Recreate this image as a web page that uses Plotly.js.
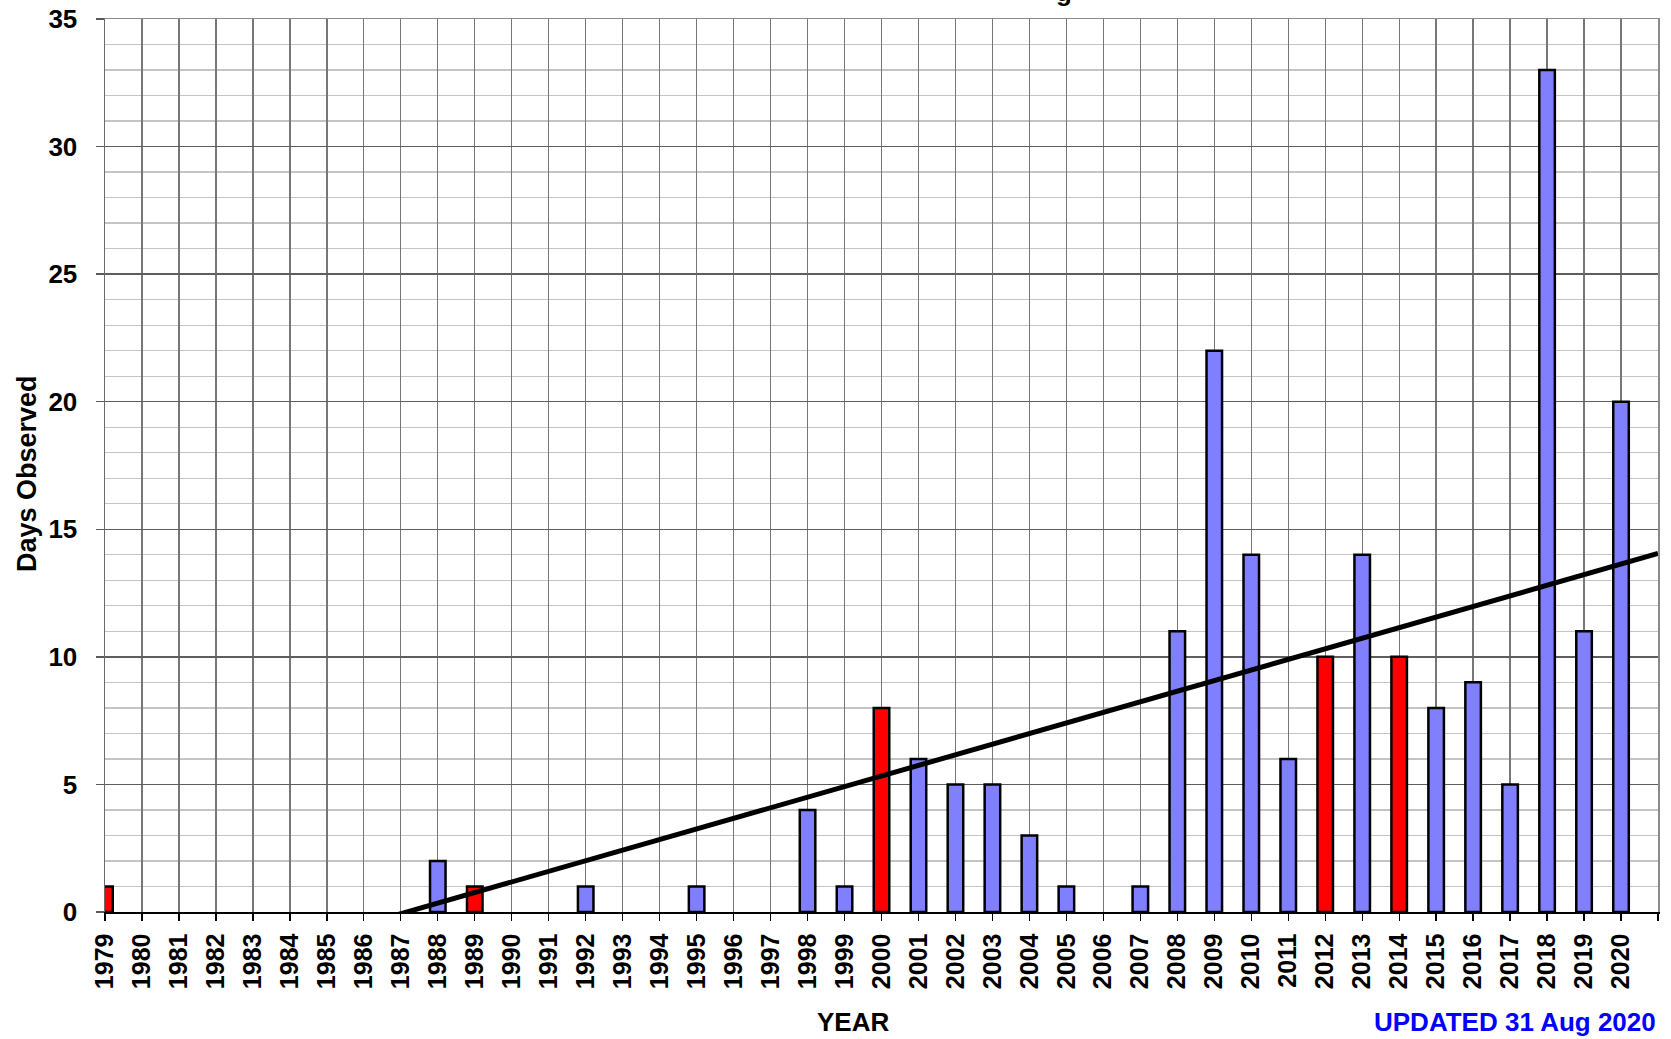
<!DOCTYPE html>
<html>
<head>
<meta charset="utf-8">
<script src="https://cdn.plot.ly/plotly-3.0.1.min.js"></script>
<style>
  html, body { margin: 0; padding: 0; background: #ffffff; }
  #chart { width: 1671px; height: 1039px; }
</style>
</head>
<body>
<div id="chart"></div>
<script>
// ---- data ----
const years = [1979,1980,1981,1982,1983,1984,1985,1986,1987,1988,1989,1990,1991,1992,1993,1994,1995,1996,1997,1998,1999,2000,2001,2002,2003,2004,2005,2006,2007,2008,2009,2010,2011,2012,2013,2014,2015,2016,2017,2018,2019,2020];
const daysObserved = [1,0,0,0,0,0,0,0,0,2,1,0,0,1,0,0,1,0,0,4,1,8,6,5,5,3,1,0,1,11,22,14,6,10,14,10,8,9,5,33,11,20];
const redYears = [1979, 1989, 2000, 2012, 2014];
const trendX = [1979, 2021];
const trendY = [-3.39, 14.05];
const yTickVals = [0, 5, 10, 15, 20, 25, 30, 35];

const FONT = 'Liberation Sans, Arial, Helvetica, sans-serif';
const barColors = years.map(y => redYears.includes(y) ? '#ff0000' : '#8080ff');
const barLineWidths = daysObserved.map(v => v > 0 ? 2.5 : 0);
const xTickVals = years.concat([2021]);
const xTickText = years.map(String).concat(['']);

const bars = {
  type: 'bar',
  x: years,
  y: daysObserved,
  width: 0.42,
  marker: { color: barColors, line: { color: '#000000', width: barLineWidths } },
  hoverinfo: 'x+y',
  showlegend: false
};

const trend = {
  type: 'scatter',
  mode: 'lines',
  x: trendX,
  y: trendY,
  line: { color: '#000000', width: 5 },
  hoverinfo: 'skip',
  showlegend: false
};

const layout = {
  width: 1671,
  height: 1039,
  margin: { l: 105, r: 13, t: 19, b: 127 },
  paper_bgcolor: '#ffffff',
  plot_bgcolor: '#ffffff',
  font: { family: FONT, size: 26, color: '#000000', weight: 'bold' },
  xaxis: {
    range: [1979, 2021],
    tickmode: 'array',
    tickvals: xTickVals,
    ticktext: xTickText,
    tickangle: -90,
    tickfont: { family: FONT, size: 25, color: '#000000', weight: 'bold' },
    ticks: 'outside',
    ticklen: 7,
    tickwidth: 1.3,
    tickcolor: '#000000',
    ticklabelstandoff: 3,
    showgrid: true,
    gridcolor: '#777777',
    gridwidth: 1.3,
    showline: true,
    linecolor: '#000000',
    linewidth: 1.5,
    mirror: false,
    zeroline: false,
    fixedrange: true
  },
  xaxis2: {
    overlaying: 'x',
    side: 'top',
    range: [1979, 2021],
    showline: true,
    linecolor: '#8a8a8a',
    linewidth: 1.5,
    showticklabels: false,
    showgrid: false,
    ticks: ''
  },
  yaxis: {
    range: [0, 35],
    tickmode: 'array',
    tickvals: yTickVals,
    tickfont: { family: FONT, size: 26, color: '#000000', weight: 'bold' },
    ticks: 'outside',
    ticklen: 8,
    tickwidth: 1.3,
    tickcolor: '#5a5a5a',
    ticklabelstandoff: 13,
    showgrid: true,
    gridcolor: '#5e5e5e',
    gridwidth: 1.3,
    minor: { dtick: 1, showgrid: true, gridcolor: '#c4c4c4', gridwidth: 1.3, ticks: '' },
    showline: true,
    linecolor: '#6a6a6a',
    linewidth: 1.5,
    mirror: false,
    zeroline: false,
    fixedrange: true
  },
  yaxis2: {
    overlaying: 'y',
    side: 'right',
    anchor: 'x',
    range: [0, 35],
    showline: true,
    linecolor: '#8a8a8a',
    linewidth: 1.5,
    showticklabels: false,
    showgrid: false,
    ticks: ''
  },
  annotations: [
    { text: 'Days Observed', xref: 'paper', yref: 'paper', x: (27 - 105) / 1553, y: (912 - 474) / 893,
      xanchor: 'center', yanchor: 'middle', textangle: -90, showarrow: false,
      font: { family: FONT, size: 27, color: '#000000', weight: 'bold' } },
    { text: 'YEAR', xref: 'paper', yref: 'paper', x: (853 - 105) / 1553, y: (912 - 1022) / 893,
      xanchor: 'center', yanchor: 'middle', showarrow: false,
      font: { family: FONT, size: 26, color: '#000000', weight: 'bold' } },
    { text: 'UPDATED 31 Aug 2020', xref: 'paper', yref: 'paper', x: 1.0, y: (912 - 1022) / 893,
      xanchor: 'right', yanchor: 'middle', showarrow: false,
      font: { family: FONT, size: 26, color: '#0000ff', weight: 'bold' } },
    { text: 'g', xref: 'paper', yref: 'paper', x: (1064 - 105) / 1553, y: (912 - 9) / 893,
      xanchor: 'center', yanchor: 'bottom', showarrow: false,
      font: { family: FONT, size: 26, color: '#000000', weight: 'bold' } }
  ],
  showlegend: false
};

// invisible helper traces to activate the frame axes (top and right border)
const frameTop = { type: 'scatter', x: [], y: [], xaxis: 'x2', yaxis: 'y', hoverinfo: 'skip', showlegend: false };
const frameRight = { type: 'scatter', x: [], y: [], xaxis: 'x', yaxis: 'y2', hoverinfo: 'skip', showlegend: false };

Plotly.newPlot('chart', [bars, trend, frameTop, frameRight], layout, { displayModeBar: false, staticPlot: true });
</script>
</body>
</html>
